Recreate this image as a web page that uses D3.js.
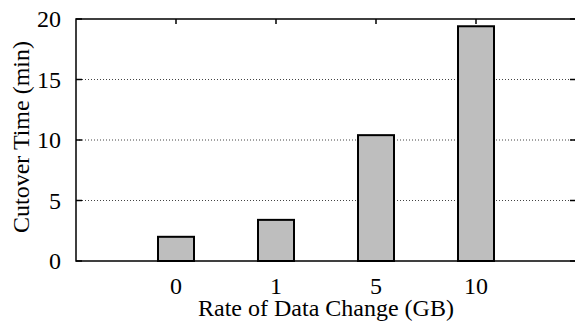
<!DOCTYPE html>
<html>
<head>
<meta charset="utf-8">
<script src="https://cdn.jsdelivr.net/npm/d3@7"></script>
<style>
  html, body { margin: 0; padding: 0; background: #fff; }
  svg { display: block; }
</style>
</head>
<body>
<div id="chart"></div>
<script>
// Cutover time vs rate of data change
const categories = ['0', '1', '5', '10'];
const cutoverMin = [2.0, 3.4, 10.4, 19.4];
const yTicks = [0, 5, 10, 15, 20];

const W = 575, H = 333;
const MARGIN = { top: 19, right: -1, bottom: 72, left: 76 };
const FONT = 24;
const SERIF = "'Liberation Serif', 'Times New Roman', Times, serif";
const BAR_W = 36;

const svg = d3.select('#chart').append('svg')
  .attr('width', W)
  .attr('height', H)
  .attr('font-family', SERIF);

const innerW = W - MARGIN.left - MARGIN.right;
const innerH = H - MARGIN.top - MARGIN.bottom;

const x = d3.scalePoint()
  .domain(categories)
  .range([0, innerW])
  .padding(1);

const y = d3.scaleLinear()
  .domain([0, 20])
  .range([innerH, 0]);

const g = svg.append('g').attr('transform', `translate(${MARGIN.left}, ${MARGIN.top})`);

// dotted grid
g.append('g')
  .selectAll('line')
  .data(yTicks.filter(d => d > 0 && d < 20))
  .join('line')
  .attr('x1', 0).attr('x2', innerW)
  .attr('y1', d => y(d)).attr('y2', d => y(d))
  .attr('stroke', '#444')
  .attr('stroke-width', 1)
  .attr('stroke-dasharray', '1,2');

// bars
g.append('g')
  .selectAll('rect')
  .data(categories.map((c, i) => ({ c, v: cutoverMin[i] })))
  .join('rect')
  .attr('x', d => x(d.c) - BAR_W / 2)
  .attr('y', d => y(d.v))
  .attr('width', BAR_W)
  .attr('height', d => innerH - y(d.v))
  .attr('fill', '#bebebe')
  .attr('stroke', '#000')
  .attr('stroke-width', 2);

// y ticks (inward, both sides)
const yt = g.append('g');
yTicks.forEach(t => {
  yt.append('line').attr('x1', 0).attr('x2', 6).attr('y1', y(t)).attr('y2', y(t))
    .attr('stroke', '#000').attr('stroke-width', 1.5);
  yt.append('line').attr('x1', innerW - 6).attr('x2', innerW).attr('y1', y(t)).attr('y2', y(t))
    .attr('stroke', '#000').attr('stroke-width', 1.5);
});
yt.selectAll('text')
  .data(yTicks)
  .join('text')
  .attr('x', -15)
  .attr('y', d => y(d))
  .attr('dy', '0.34em')
  .attr('text-anchor', 'end')
  .attr('font-size', FONT)
  .text(d => d);

// x ticks (inward, top)
const xt = g.append('g');
categories.forEach(c => {
  xt.append('line').attr('x1', x(c)).attr('x2', x(c)).attr('y1', 0).attr('y2', 5)
    .attr('stroke', '#000').attr('stroke-width', 1.5);
});
xt.selectAll('text')
  .data(categories)
  .join('text')
  .attr('x', d => x(d))
  .attr('y', innerH + 33)
  .attr('text-anchor', 'middle')
  .attr('font-size', FONT)
  .text(d => d);

// frame
g.append('rect')
  .attr('x', 0).attr('y', 0)
  .attr('width', innerW).attr('height', innerH)
  .attr('fill', 'none')
  .attr('stroke', '#000')
  .attr('stroke-width', 1.5);

// axis titles
svg.append('text')
  .attr('x', MARGIN.left + innerW / 2)
  .attr('y', 316)
  .attr('text-anchor', 'middle')
  .attr('font-size', FONT)
  .text('Rate of Data Change (GB)');

svg.append('text')
  .attr('transform', 'translate(29, 137) rotate(-90)')
  .attr('text-anchor', 'middle')
  .attr('font-size', FONT)
  .text('Cutover Time (min)');
</script>
</body>
</html>
